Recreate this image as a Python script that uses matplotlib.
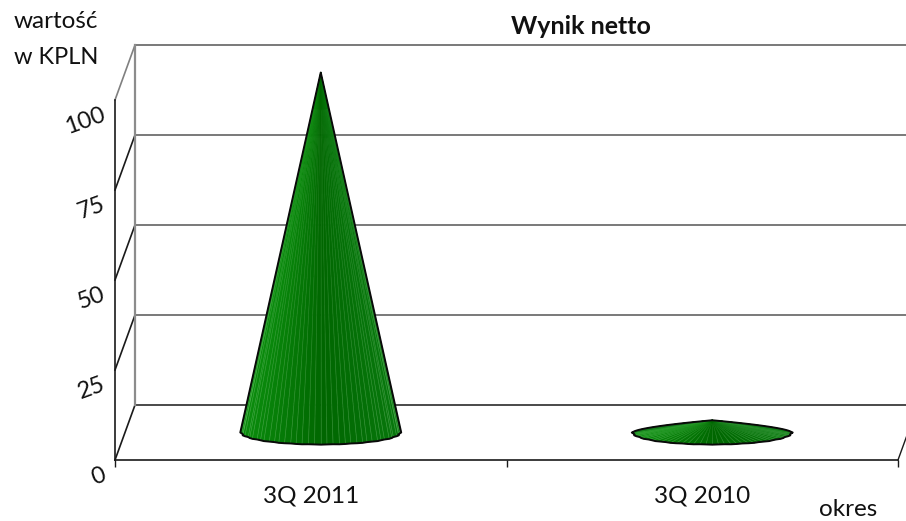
import numpy as np
import matplotlib
matplotlib.use("Agg")
import matplotlib.pyplot as plt
from matplotlib.collections import PolyCollection, LineCollection
from matplotlib.transforms import ScaledTranslation

plt.rcParams['font.family'] = ['Lato', 'DejaVu Sans']

categories = ["3Q 2011", "3Q 2010"]
values = [100, 3.4]
y_ticks = [0, 25, 50, 75, 100]
title = "Wynik netto"
y_label = ["wartość", "w KPLN"]
x_label = "okres"

W, H = 906, 521
L, R, T, B = 115, 898, 100, 460

fig = plt.figure(figsize=(W / 100, H / 100), dpi=100)
ax = fig.add_axes([L / W, 1 - B / H, (R - L) / W, (B - T) / H])
ax.set_xlim(0, 2)
ax.set_ylim(0, 100)
ax.patch.set_visible(False)

# px -> data units, the chart is a fake 3D box so the depth is just an offset
ux = 2 / (R - L)
uy = 100 / (B - T)
dep_x = 20 * ux
dep_y = 55 * uy

for s in ['top', 'right']:
    ax.spines[s].set_visible(False)
for s in ['left', 'bottom']:
    ax.spines[s].set_color('#1a1a1a')
    ax.spines[s].set_linewidth(1.2)

# back wall and side wall
for i, v in enumerate(y_ticks):
    gray = '#3c3c3c' if v == 0 else '#6e6e6e'
    ax.plot([dep_x, 2 + 2 * dep_x], [v + dep_y, v + dep_y], color=gray, lw=1.3,
            clip_on=False, zorder=1)
    ax.plot([0, dep_x], [v, v + dep_y], color='#808080' if v == 100 else '#1a1a1a',
            lw=1.2, clip_on=False, zorder=1)
ax.plot([dep_x, dep_x], [dep_y, 100 + dep_y], color='#8c8c8c', lw=1.6, clip_on=False, zorder=1)
ax.plot([2, 2 + dep_x], [0, dep_y], color='#1a1a1a', lw=1.0, clip_on=False, zorder=1)


def shade(t):
    # t goes 0..1 from left to right edge of the cone
    left = np.array([0.04, 0.55, 0.05])
    mid = np.array([0.0, 0.40, 0.0])
    right = np.array([0.03, 0.47, 0.05])
    if t < 0.5:
        return left + (mid - left) * t * 2
    return mid + (right - mid) * (t - 0.5) * 2


def cone(x0, val):
    cx = x0 + dep_x / 2
    cy = dep_y / 2
    rx = 79.5 * ux
    ry = 12 * uy
    n = 40
    ang = np.linspace(np.pi, 2 * np.pi, n + 1)
    # base is a coarse polygon in the original, hence the small waves on the edge
    bump = 1 + 0.012 * np.cos(ang * 24)
    bx = cx + rx * np.cos(ang) * bump
    by = cy + ry * np.sin(ang) * bump
    apex = (cx, cy + val)
    polys = []
    cols = []
    for i in range(n):
        polys.append([apex, (bx[i], by[i]), (bx[i + 1], by[i + 1])])
        cols.append(shade((np.cos(ang[i]) + 1) / 2))
    outline = [apex] + list(zip(bx, by))
    if val < ry * 1.5:
        # flat one, back half of the rim is seen too
        ang2 = np.linspace(0, np.pi, 41)
        px = cx + rx * np.cos(ang2)
        py = cy + val * (1 - np.abs(np.cos(ang2))) ** 0.6
        outline = list(zip(bx, by)) + list(zip(px, py))
        back = list(zip(px, py))
        for i in range(40):
            polys.append([apex, back[i], back[i + 1]])
            cols.append((0.08, 0.50, 0.10))
    pc = PolyCollection(polys, facecolors=cols, edgecolors=cols, linewidths=0.5,
                        clip_on=False, zorder=3)
    ax.add_collection(pc)
    # faint light seams between the facets, fading to the tip where they bunch up
    seams = []
    seam_cols = []
    fr = np.linspace(0.1, 1, 13)
    for i in range(1, n):
        for f0, f1 in zip(fr[:-1], fr[1:]):
            seams.append([(apex[0] + f0 * (bx[i] - apex[0]), apex[1] + f0 * (by[i] - apex[1])),
                          (apex[0] + f1 * (bx[i] - apex[0]), apex[1] + f1 * (by[i] - apex[1]))])
            seam_cols.append((0.6, 0.85, 0.6, 0.32 * f1))
    lc = LineCollection(seams, colors=seam_cols, linewidths=0.5, clip_on=False, zorder=3.5)
    ax.add_collection(lc)
    oc = PolyCollection([outline], facecolors='none', edgecolors='#0a0a0a',
                        linewidths=1.4, clip_on=False, zorder=4)
    ax.add_collection(oc)


for i, v in enumerate(values):
    cone(i + 0.5, v)

ax.set_xticks([0, 1, 2])
ax.set_xticklabels([])
ax.set_xticks([0.5, 1.5], minor=True)
ax.set_xticklabels(categories, minor=True, fontsize=17.5, color='#111111')
ax.tick_params(axis='x', which='major', length=5, width=1, color='#1a1a1a')
ax.tick_params(axis='x', which='minor', length=0, pad=18)
ax.set_yticks(y_ticks)
ax.set_yticklabels([str(v) for v in y_ticks], rotation=20, va='top', fontsize=17, color='#111111')
ax.tick_params(axis='y', length=0, pad=5)
# nudge the rotated labels down a little
off = ScaledTranslation(0, -4 / 100, fig.dpi_scale_trans)
for lab in ax.get_yticklabels():
    lab.set_transform(lab.get_transform() + off)

fig.text(581 / W, 1 - 26 / H, title, fontsize=18, fontweight='bold', ha='center', va='center', color='#111111')
fig.text(56 / W, 1 - 21 / H, y_label[0], fontsize=17.5, ha='center', va='center', color='#111111')
fig.text(56 / W, 1 - 57 / H, y_label[1], fontsize=17, ha='center', va='center', color='#111111')
fig.text(848 / W, 1 - 510 / H, x_label, fontsize=17.5, ha='center', va='center', color='#111111')

fig.savefig("out.png", dpi=100)
